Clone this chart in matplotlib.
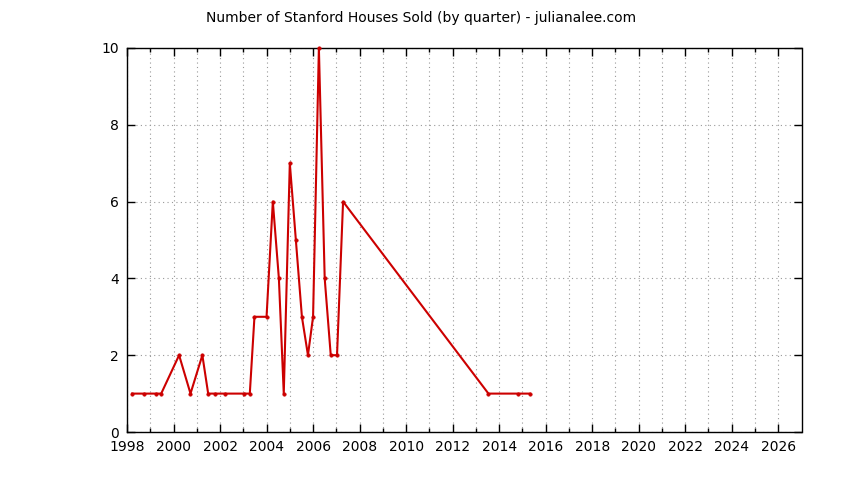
import matplotlib as mpl
mpl.use("Agg")
import matplotlib.pyplot as plt
from matplotlib.ticker import MultipleLocator, FixedLocator

# quarter (decimal year) and houses sold
quarters = [1998.22, 1998.75, 1999.25, 1999.47, 2000.24, 2000.73, 2001.24, 2001.49,
            2001.77, 2002.23, 2003.02, 2003.28, 2003.48, 2004.0, 2004.27, 2004.53,
            2004.74, 2005.0, 2005.26, 2005.52, 2005.78, 2006.0, 2006.25, 2006.5,
            2006.76, 2007.03, 2007.29, 2013.54, 2014.79, 2015.31]
sold = [1, 1, 1, 1, 2, 1, 2, 1,
        1, 1, 1, 1, 3, 3, 6, 4,
        1, 7, 5, 3, 2, 3, 10, 4,
        2, 2, 6, 1, 1, 1]

TITLE = "Number of Stanford Houses Sold (by quarter) - julianalee.com"
C_LINE = "#CC0000"

plt.rcParams.update({
    "font.family": "DejaVu Sans",
    "font.size": 10,
    "axes.linewidth": 1.0,
    "xtick.direction": "in",
    "ytick.direction": "in",
    "xtick.top": True,
    "ytick.right": True,
})

fig = plt.figure(figsize=(8.44, 4.8), dpi=100)
ax = fig.add_axes([127 / 844, 1 - 432 / 480, (801.5 - 127) / 844, (432 - 48) / 480])

ax.plot(quarters, sold, "-", color=C_LINE, lw=1.5, marker="o", markersize=2.6,
        mfc=C_LINE, mec=C_LINE, mew=0.3, clip_on=False, zorder=3)

ax.set_xlim(1998, 2027)
ax.set_ylim(0, 10)
ax.xaxis.set_major_locator(MultipleLocator(2))
ax.xaxis.set_minor_locator(FixedLocator(list(range(1999, 2027, 2))))
ax.yaxis.set_major_locator(MultipleLocator(2))
ax.tick_params(which="major", length=6, width=1.0, pad=6)
ax.tick_params(which="minor", length=3, width=1.0)
ax.grid(True, which="both", axis="x", color="#999999", ls=(0, (1, 3)), lw=0.8)
ax.grid(True, which="major", axis="y", color="#999999", ls=(0, (1, 3)), lw=0.8)
ax.set_axisbelow(True)

fig.text(421 / 844, 1 - 18 / 480, TITLE, ha="center", va="center", fontsize=10)

fig.savefig("out.png", dpi=100)
